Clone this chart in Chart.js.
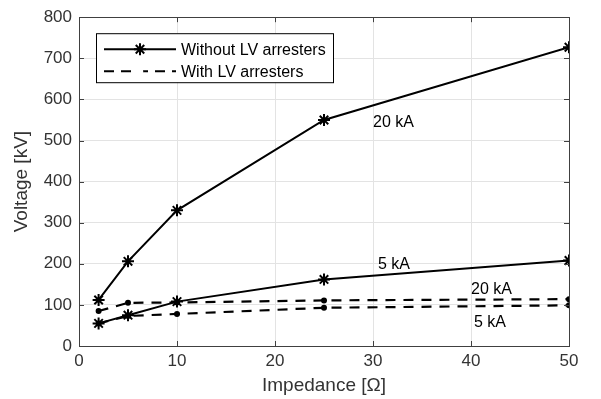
<!DOCTYPE html>
<html><head><meta charset="utf-8">
<script src="https://cdn.jsdelivr.net/npm/chart.js@4/dist/chart.umd.min.js"></script>
<style>html,body{margin:0;padding:0;background:#fff;}#wrap{width:601px;height:399px;}</style>
</head><body><div id="wrap"><canvas id="c" width="601" height="399"></canvas></div>
<script>
const impedance = [2, 5, 10, 25, 50];
const without20kA = [112, 206, 330, 550, 727];
const without5kA = [55, 75, 108, 162, 208];
const with20kA = [85, 105, 106, 111, 114];
const with5kA = [55, 73, 78, 93, 99];
const xTicks = [0, 10, 20, 30, 40, 50];
const yTicks = [0, 100, 200, 300, 400, 500, 600, 700, 800];
const legendLabels = ['Without LV arresters', 'With LV arresters'];
const labelTexts = ['20 kA', '5 kA', '20 kA', '5 kA'];
const labelX = [30.0, 30.5, 40.0, 40.3];
const labelY = [543, 197, 138, 58];

const FONT = '"Liberation Sans", Arial, sans-serif';
const toPts = (arr) => impedance.map((x, i) => ({x, y: arr[i]}));
const solid = (d) => ({data: toPts(d), borderColor: '#000', backgroundColor: '#000', borderWidth: 2,
  pointStyle: 'star', pointRadius: 6, pointBorderWidth: 2, pointBorderColor: '#000', showLine: true, fill: false, tension: 0});
const dashed = (d) => ({data: toPts(d), borderColor: '#000', backgroundColor: '#000', borderWidth: 2.2, borderDash: [10, 8],
  pointStyle: 'circle', pointRadius: 3, pointBorderWidth: 0, showLine: true, fill: false, tension: 0});

const decor = {
  id: 'decor',
  afterDatasetsDraw(chart) {
    const {ctx, chartArea: a, scales: {x, y}} = chart;
    ctx.save();
    ctx.strokeStyle = '#404040'; ctx.lineWidth = 1;
    ctx.strokeRect(Math.round(a.left) + 0.5, Math.round(a.top) + 0.5, Math.round(a.right - a.left), Math.round(a.bottom - a.top));
    ctx.beginPath();
    xTicks.forEach(v => { const px = Math.round(x.getPixelForValue(v)) + 0.5;
      ctx.moveTo(px, a.bottom); ctx.lineTo(px, a.bottom - 5); ctx.moveTo(px, a.top); ctx.lineTo(px, a.top + 5); });
    yTicks.forEach(v => { const py = Math.round(y.getPixelForValue(v)) + 0.5;
      ctx.moveTo(a.left, py); ctx.lineTo(a.left + 5, py); ctx.moveTo(a.right, py); ctx.lineTo(a.right - 5, py); });
    ctx.stroke();
    ctx.fillStyle = '#000'; ctx.font = '16px ' + FONT; ctx.textAlign = 'left'; ctx.textBaseline = 'middle';
    labelTexts.forEach((t, i) => ctx.fillText(t, x.getPixelForValue(labelX[i]), y.getPixelForValue(labelY[i])));
    const bx = a.left + 17, by = a.top + 16, bw = 237, bh = 49;
    ctx.fillStyle = '#fff'; ctx.fillRect(bx, by, bw, bh);
    ctx.strokeStyle = '#000'; ctx.lineWidth = 1; ctx.strokeRect(bx + 0.5, by + 0.5, bw, bh);
    const rows = [by + 16, by + 38];
    const x0 = bx + 8, x1 = bx + 80, xm = (x0 + x1) / 2;
    ctx.lineWidth = 2; ctx.strokeStyle = '#000';
    ctx.beginPath(); ctx.setLineDash([]); ctx.moveTo(x0, rows[0]); ctx.lineTo(x1, rows[0]); ctx.stroke();
    ctx.beginPath(); ctx.setLineDash([10, 7]); ctx.lineDashOffset = 0; ctx.moveTo(x0, rows[1]); ctx.lineTo(x1, rows[1]); ctx.stroke();
    ctx.setLineDash([]);
    Chart.helpers.drawPoint(ctx, {pointStyle: 'star', radius: 6, borderWidth: 2}, xm, rows[0]);
    ctx.beginPath(); ctx.arc(xm, rows[1], 3.2, 0, Math.PI * 2); ctx.fill();
    ctx.fillStyle = '#000'; ctx.font = '16px ' + FONT;
    ctx.fillText(legendLabels[0], bx + 85, rows[0] + 1);
    ctx.fillText(legendLabels[1], bx + 85, rows[1] + 1);
    ctx.restore();
  }
};

new Chart(document.getElementById('c'), {
  type: 'scatter',
  data: {datasets: [solid(without20kA), solid(without5kA), dashed(with20kA), dashed(with5kA)]},
  options: {
    responsive: false, animation: false, devicePixelRatio: 1,
    layout: {padding: {left: 0, right: 32, top: 16, bottom: 0}},
    plugins: {legend: {display: false}, tooltip: {enabled: false}},
    scales: {
      x: {type: 'linear', min: 0, max: 50,
        afterBuildTicks: (s) => { s.ticks = xTicks.map(v => ({value: v})); },
        afterFit: (s) => { s.height = 53; },
        grid: {color: '#e3e3e3', drawTicks: false, lineWidth: 1},
        border: {display: false},
        ticks: {color: '#333', font: {size: 17, family: FONT}, padding: 5, maxRotation: 0},
        title: {display: true, text: 'Impedance [Ω]', color: '#333', font: {size: 19, family: FONT}, padding: {top: 0, bottom: 2}}
      },
      y: {type: 'linear', min: 0, max: 800,
        afterBuildTicks: (s) => { s.ticks = yTicks.map(v => ({value: v})); },
        afterFit: (s) => { s.width = 79; },
        grid: {color: '#e3e3e3', drawTicks: false, lineWidth: 1},
        border: {display: false},
        ticks: {color: '#333', font: {size: 17, family: FONT}, padding: 7},
        title: {display: true, text: 'Voltage [kV]', color: '#333', font: {size: 19, family: FONT}, padding: {top: 10, bottom: 0}}
      }
    }
  },
  plugins: [decor]
});
</script></body></html>
